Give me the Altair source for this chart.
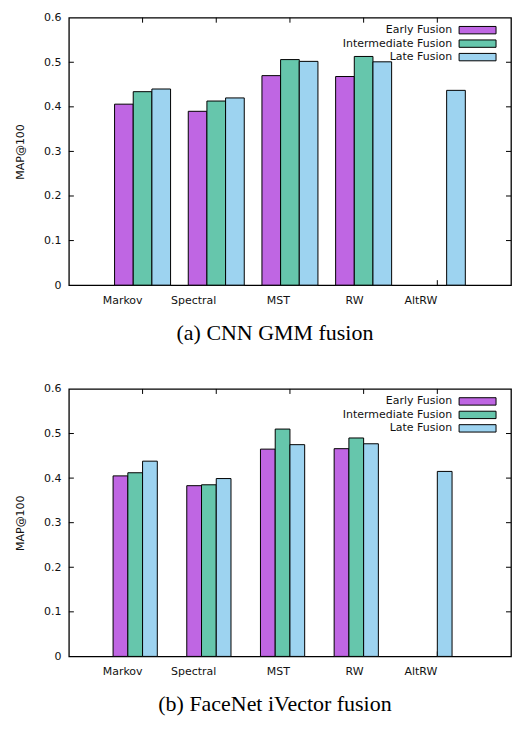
import altair as alt
import pandas as pd

categories = ["Markov", "Spectral", "MST", "RW", "AltRW"]
series = ["Early Fusion", "Intermediate Fusion", "Late Fusion"]
colors = ["#BF66E3", "#66C6AC", "#9DD3F0"]
y_ticks = [0, 0.1, 0.2, 0.3, 0.4, 0.5, 0.6]

# (a) CNN GMM fusion
a_early = [0.406, 0.390, 0.470, 0.468, None]
a_inter = [0.434, 0.413, 0.506, 0.513, None]
a_late = [0.440, 0.420, 0.502, 0.501, 0.437]

# (b) FaceNet iVector fusion
b_early = [0.405, 0.383, 0.465, 0.466, None]
b_inter = [0.412, 0.385, 0.510, 0.490, None]
b_late = [0.438, 0.399, 0.475, 0.477, 0.415]

W, H = 443, 268
FONT = "DejaVu Sans"
TXT = "#111111"
SWATCH = "M-1,-0.2L1,-0.2L1,0.2L-1,0.2Z"


def make_df(early, inter, late):
    rows = []
    for s, vals in zip(series, [early, inter, late]):
        for c, v in zip(categories, vals):
            if v is not None:
                rows.append({"category": c, "series": s, "value": v})
    return pd.DataFrame(rows)


def panel(early, inter, late, caption, offset_domain, offset_pad):
    df = make_df(early, inter, late)
    xscale = alt.Scale(domain=categories, paddingInner=0, paddingOuter=0.5)
    yscale = alt.Scale(domain=[0, 0.6], nice=False)
    cscale = alt.Scale(domain=series, range=colors)

    bars = alt.Chart(df).mark_bar(stroke="black", strokeWidth=1, opacity=1).encode(
        x=alt.X("category:N", scale=xscale, sort=categories,
                axis=alt.Axis(title=None, labelAngle=0, ticks=False, domain=False,
                              labelFont=FONT, labelFontSize=11, labelColor=TXT,
                              labelPadding=15)),
        xOffset=alt.XOffset("series:N", scale=alt.Scale(domain=offset_domain,
                                                        paddingInner=0,
                                                        paddingOuter=offset_pad)),
        y=alt.Y("value:Q", scale=yscale,
                axis=alt.Axis(orient="left", title="MAP@100", values=y_ticks,
                              format="~g", ticks=False, domain=False, grid=False,
                              labelFont=FONT, labelFontSize=11, labelColor=TXT,
                              labelPadding=8, titleFont=FONT, titleFontSize=11,
                              titleFontWeight="normal", titleColor=TXT,
                              titlePadding=18)),
        color=alt.Color("series:N", scale=cscale, legend=None),
    )

    tick_df = pd.DataFrame({"t": y_ticks[1:-1]})
    cat_df = pd.DataFrame({"category": categories})
    left_ticks = alt.Chart(tick_df).mark_rule(color="black", strokeWidth=1).encode(
        y=alt.Y("t:Q", scale=yscale, axis=None), x=alt.value(0), x2=alt.value(5))
    right_ticks = alt.Chart(tick_df).mark_rule(color="black", strokeWidth=1).encode(
        y=alt.Y("t:Q", scale=yscale, axis=None), x=alt.value(W - 5), x2=alt.value(W))
    top_ticks = alt.Chart(cat_df).mark_rule(color="black", strokeWidth=1).encode(
        x=alt.X("category:N", scale=xscale, sort=categories), y=alt.value(0), y2=alt.value(5))
    bottom_ticks = alt.Chart(cat_df).mark_rule(color="black", strokeWidth=1).encode(
        x=alt.X("category:N", scale=xscale, sort=categories), y=alt.value(H - 5), y2=alt.value(H))

    leg_df = pd.DataFrame({"series": series})
    leg_y = alt.Y("series:N", axis=None,
                  scale=alt.Scale(domain=series, type="point", range=[12.5, 39.5], padding=0))
    leg_sym = alt.Chart(leg_df).mark_point(
        shape=SWATCH, size=1369, filled=True, stroke="black", strokeWidth=1, opacity=1
    ).encode(x=alt.value(W - 33.5), y=leg_y, fill=alt.Color("series:N", scale=cscale, legend=None))
    leg_txt = alt.Chart(leg_df).mark_text(
        align="right", baseline="middle", font=FONT, fontSize=11, color=TXT
    ).encode(x=alt.value(W - 59), y=leg_y, text="series:N")

    return alt.layer(left_ticks, right_ticks, top_ticks, bottom_ticks, bars,
                     leg_sym, leg_txt).resolve_scale(y="independent").properties(
        width=W, height=H,
        title=alt.TitleParams(caption, orient="bottom", font="Liberation Serif",
                              fontSize=22, fontWeight="normal", color="black",
                              offset=18, anchor="middle", dx=-15),
    )


top = panel(a_early, a_inter, a_late, "(a) CNN GMM fusion", series, 0.4737)
bottom = panel(b_early, b_inter, b_late, "(b) FaceNet iVector fusion",
               series + ["(none)"], 0.5)

chart = alt.vconcat(top, bottom, spacing=37).resolve_scale(
    x="independent", y="independent", xOffset="independent", color="independent"
).configure_view(
    stroke="black", strokeWidth=1.3
).properties(padding={"left": 5, "top": 2, "right": 0, "bottom": 0})

chart.save("out.html", embed_options={"renderer": "svg", "actions": False})
